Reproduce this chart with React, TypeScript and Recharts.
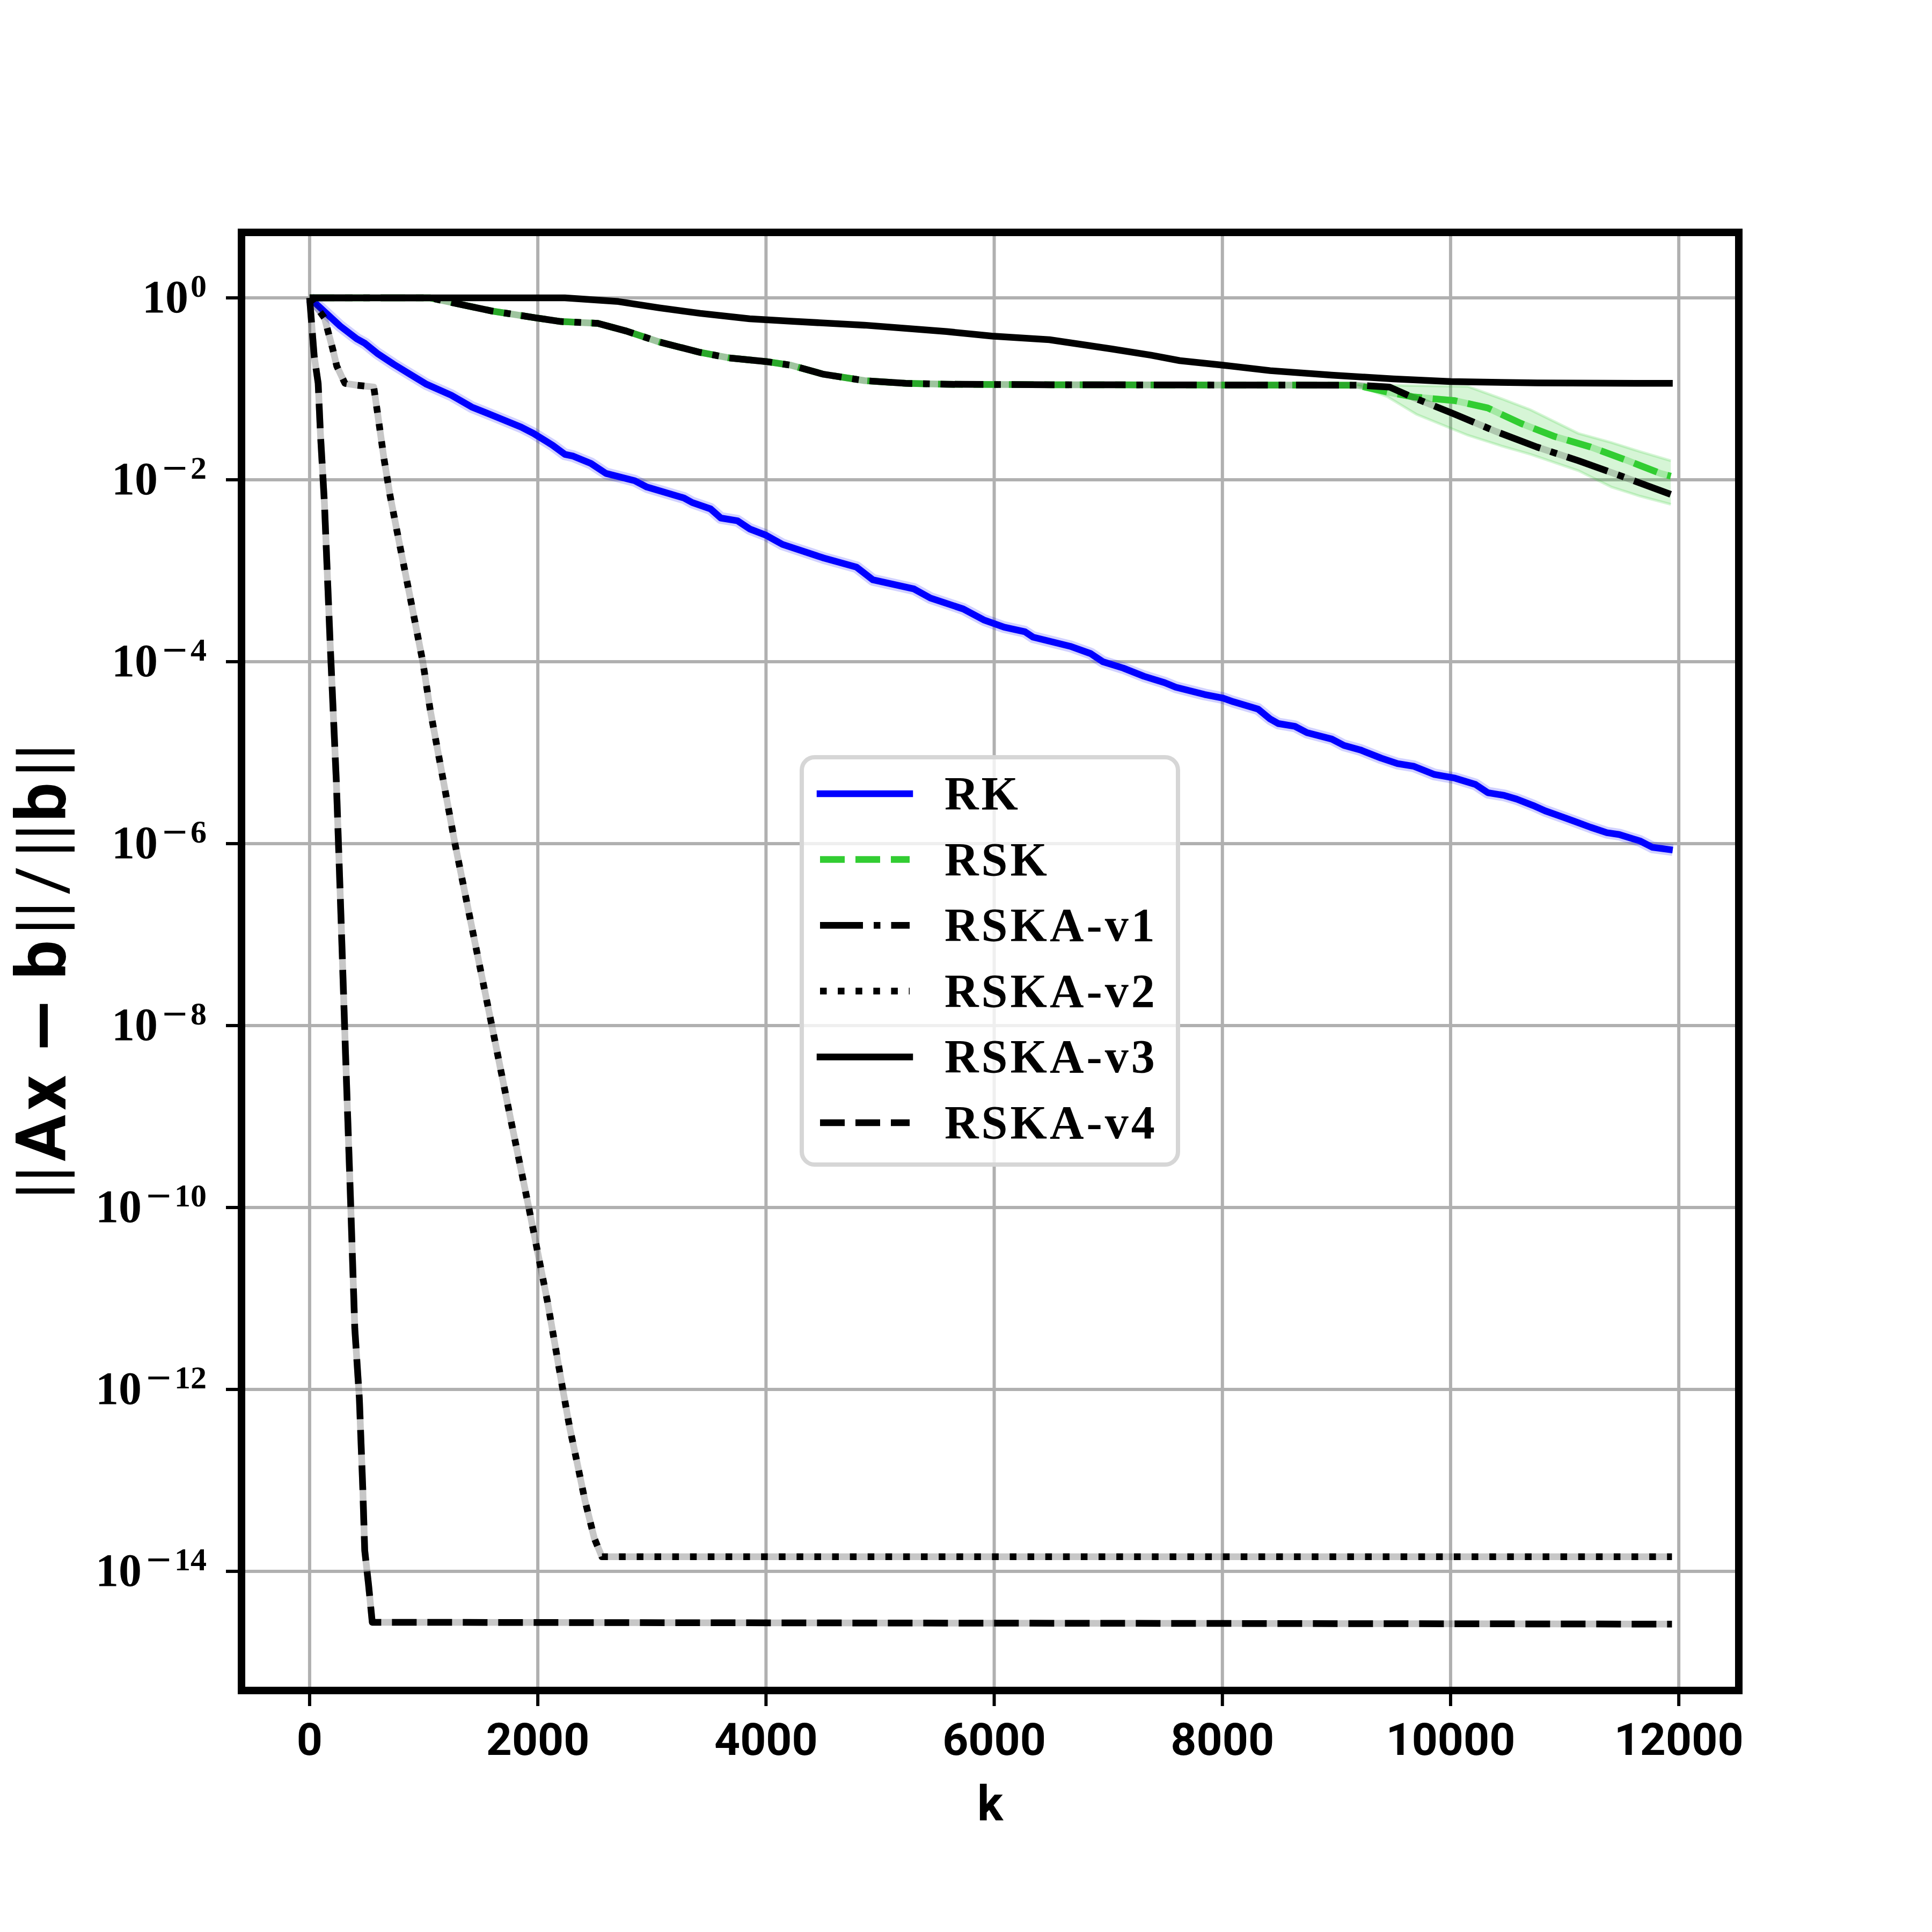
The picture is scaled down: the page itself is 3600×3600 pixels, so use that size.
import React from 'react';
import {
  ComposedChart,
  Line,
  Area,
  XAxis,
  YAxis,
  CartesianGrid,
  Legend,
  ReferenceArea,
} from 'recharts';

// ---- axis ticks ----
const kTicks = [0, 2000, 4000, 6000, 8000, 10000, 12000];
const yTickExponents = [0, -2, -4, -6, -8, -10, -12, -14];

// ---- series as [k, log10(||Ax-b||/||b||)] ----
const rkPoints: [number, number][] = [
  [0, 0], [125, -0.145], [268, -0.31], [413, -0.45], [485, -0.5], [593, -0.61],
  [737, -0.73], [880, -0.84], [1025, -0.95], [1241, -1.07], [1421, -1.2],
  [1600, -1.29], [1853, -1.42], [1962, -1.49], [2129, -1.62], [2237, -1.72],
  [2310, -1.74], [2465, -1.82], [2597, -1.93], [2849, -2.01], [2956, -2.08],
  [3281, -2.2], [3353, -2.25], [3514, -2.32], [3604, -2.42], [3749, -2.45],
  [3857, -2.54], [4001, -2.61], [4144, -2.71], [4505, -2.86], [4793, -2.96],
  [4937, -3.1], [5297, -3.2], [5441, -3.3], [5729, -3.42], [5908, -3.54],
  [6087, -3.62], [6268, -3.67], [6341, -3.73], [6665, -3.83], [6844, -3.91],
  [6952, -4.0], [7131, -4.07], [7312, -4.16], [7493, -4.23], [7591, -4.28],
  [7843, -4.36], [8006, -4.4], [8095, -4.44], [8312, -4.52], [8419, -4.63],
  [8490, -4.68], [8635, -4.71], [8742, -4.78], [8958, -4.85], [9066, -4.92],
  [9210, -4.97], [9391, -5.06], [9535, -5.12], [9679, -5.15], [9859, -5.24],
  [10038, -5.28], [10219, -5.35], [10327, -5.44], [10471, -5.47], [10579, -5.51],
  [10722, -5.58], [10830, -5.64], [11011, -5.72], [11227, -5.82], [11370, -5.88],
  [11477, -5.9], [11659, -5.97], [11768, -6.04], [11947, -6.07],
];

const rskPoints: [number, number][] = [
  [0, 0], [1058, 0], [1242, -0.05], [1600, -0.145], [1985, -0.22], [2200, -0.26],
  [2525, -0.28], [2776, -0.365], [3065, -0.485], [3424, -0.6], [3677, -0.66],
  [4001, -0.7], [4217, -0.74], [4505, -0.84], [4864, -0.91], [5225, -0.94],
  [5583, -0.95], [6500, -0.955], [8000, -0.958], [9175, -0.96], [9464, -1.04],
  [9680, -1.09], [10038, -1.13], [10325, -1.21], [10616, -1.38], [10903, -1.52],
  [11228, -1.64], [11553, -1.79], [11839, -1.93], [11930, -1.96],
];

const rskBandK = [9180, 9450, 9700, 10150, 10450, 10700, 11120, 11410, 11660, 11930];
const rskBandLow = [-0.96, -1.09, -1.28, -1.51, -1.63, -1.72, -1.9, -2.08, -2.18, -2.27];
const rskBandHigh = [-0.953, -0.96, -0.965, -0.973, -1.11, -1.23, -1.49, -1.59, -1.69, -1.79];

const v1Points: [number, number][] = [
  [0, 0], [1058, 0], [1242, -0.05], [1600, -0.145], [1985, -0.22], [2200, -0.26],
  [2525, -0.28], [2776, -0.365], [3065, -0.485], [3424, -0.6], [3677, -0.66],
  [4001, -0.7], [4217, -0.74], [4505, -0.84], [4864, -0.91], [5225, -0.94],
  [5583, -0.95], [6500, -0.955], [8000, -0.958], [9175, -0.96], [9464, -0.98],
  [9643, -1.08], [10038, -1.28], [10400, -1.47], [10757, -1.64], [11119, -1.79],
  [11477, -1.95], [11929, -2.16],
];

const v2Points: [number, number][] = [
  [0, 0], [130, -0.22], [202, -0.56], [238, -0.75], [310, -0.94], [413, -0.96],
  [562, -0.98], [597, -1.28], [652, -1.77], [706, -2.18], [795, -2.75], [884, -3.31],
  [992, -4.0], [1057, -4.53], [1274, -6.0], [1435, -7.0], [1597, -8.0], [1759, -9.01],
  [1921, -10.0], [2084, -11.03], [2219, -12.0], [2281, -12.43], [2347, -12.82],
  [2413, -13.22], [2496, -13.64], [2562, -13.84], [11940, -13.84],
];

const v3Points: [number, number][] = [
  [0, 0], [2237, 0], [2705, -0.04], [3065, -0.11], [3424, -0.17], [3857, -0.23],
  [4217, -0.257], [4864, -0.3], [5583, -0.37], [5981, -0.42], [6484, -0.46],
  [7023, -0.56], [7375, -0.63], [7627, -0.69], [8006, -0.74], [8419, -0.8],
  [8958, -0.85], [9497, -0.89], [10003, -0.92], [10760, -0.935], [11947, -0.94],
];

const v4Points: [number, number][] = [
  [0, 0], [40, -0.64], [75, -0.94], [95, -1.5], [130, -2.26], [180, -3.8],
  [234, -5.31], [275, -6.81], [315, -8.32], [356, -9.82], [396, -11.33],
  [436, -12.1], [466, -13.09], [483, -13.77], [516, -14.14], [549, -14.56],
  [11940, -14.58],
];

// ---- tables for the library ----
const toRows = (pts: [number, number][], key: string) =>
  pts.map(([k, e]) => ({ k, [key]: Math.pow(10, e) }));

const rkRows = toRows(rkPoints, 'rk');
const rskRows = toRows(rskPoints, 'rsk');
const v1Rows = toRows(v1Points, 'v1');
const v2Rows = toRows(v2Points, 'v2');
const v3Rows = toRows(v3Points, 'v3');
const v4Rows = toRows(v4Points, 'v4');
const bandRows = rskBandK.map((k, i) => ({
  k,
  band: [Math.pow(10, rskBandLow[i]), Math.pow(10, rskBandHigh[i])],
}));

const yTicks = yTickExponents.map((e) => Math.pow(10, e));
const X_DOMAIN: [number, number] = [-597, 12526];
const Y_DOMAIN: [number, number] = [Math.pow(10, -15.31), Math.pow(10, 0.72)];

const LW = 12.5;

const seriesMeta = [
  { name: 'RK', color: '#0000ff', dash: undefined as string | undefined },
  { name: 'RSK', color: '#32cd32', dash: '46 20' },
  { name: 'RSKA-v1', color: '#000000', dash: '80 20 12.5 20' },
  { name: 'RSKA-v2', color: '#000000', dash: '12.5 20.6' },
  { name: 'RSKA-v3', color: '#000000', dash: undefined },
  { name: 'RSKA-v4', color: '#000000', dash: '46 20' },
];

const XTick = (props: any) => {
  const { x, y, payload } = props;
  return (
    <text
      x={x}
      y={y + 91}
      textAnchor="middle"
      fontFamily="Roboto"
      fontWeight="bold"
      fontSize={84}
      fill="#000"
    >
      {payload.value}
    </text>
  );
};

const YTick = (props: any) => {
  const { x, y, payload } = props;
  const e = Math.round(Math.log10(payload.value));
  return (
    <text
      x={x - 36}
      y={y + 27}
      textAnchor="end"
      fontFamily="Liberation Serif"
      fontWeight="bold"
      fontSize={86}
      fill="#000"
    >
      10
      {e === 0 ? (
        <tspan fontSize={60} dy={-29} dx={4}>
          0
        </tspan>
      ) : (
        <>
          <tspan fontSize={62} dy={-29} dx={6} fontFamily="DejaVu Sans" fontWeight="normal">
            {'\u2212'}
          </tspan>
          <tspan fontSize={60} dx={3}>
            {Math.abs(e)}
          </tspan>
        </>
      )}
    </text>
  );
};

const XLabel = () => (
  <text
    x={1845}
    y={3392}
    textAnchor="middle"
    fontFamily="Roboto"
    fontWeight="bold"
    fontSize={90}
    fill="#000"
  >
    k
  </text>
);

const YLabel = () => (
  <text
    x={122}
    y={1810}
    transform="rotate(-90 122 1810)"
    textAnchor="middle"
    fontFamily="Roboto"
    fontSize={129}
    fill="#000"
  >
    <tspan fontWeight="normal">||</tspan>
    <tspan fontWeight="bold" dx={8}>A</tspan>
    <tspan fontWeight="bold" dx={8}>x</tspan>
    <tspan fontWeight="bold" dx={38} fontFamily="DejaVu Sans">{'\u2212'}</tspan>
    <tspan fontWeight="bold" dx={33}>b</tspan>
    <tspan fontWeight="normal" dx={10}>||</tspan>
    <tspan fontWeight="normal" dx={12}>/</tspan>
    <tspan fontWeight="normal" dx={16}>||</tspan>
    <tspan fontWeight="bold" dx={4}>b</tspan>
    <tspan fontWeight="normal" dx={10}>||</tspan>
  </text>
);

const LegendBox = () => (
  <svg width={712} height={772} style={{ display: 'block' }}>
    <rect
      x={4}
      y={4}
      width={701}
      height={759}
      rx={24}
      ry={24}
      fill="#ffffff"
      fillOpacity={0.8}
      stroke="#d6d6d6"
      strokeWidth={8}
    />
    {seriesMeta.map((s, i) => {
      const cy = 72 + i * 122.6;
      return (
        <g key={s.name}>
          <line
            x1={38}
            x2={205}
            y1={cy}
            y2={cy}
            stroke={s.color}
            strokeWidth={LW}
            strokeDasharray={s.dash}
            strokeLinecap={s.dash ? 'butt' : 'square'}
          />
          <text
            x={270}
            y={cy + 29}
            fontFamily="Liberation Serif"
            fontWeight="bold"
            fontSize={88}
            letterSpacing={5}
            fill="#000"
          >
            {s.name}
          </text>
        </g>
      );
    })}
  </svg>
);

const common = {
  type: 'linear' as const,
  dot: false,
  activeDot: false,
  isAnimationActive: false,
  strokeLinejoin: 'round' as const,
};

export default function App() {
  return (
    <div
      style={{
        position: 'absolute',
        left: 0,
        top: 0,
        width: 3600,
        height: 3600,
        background: '#ffffff',
      }}
    >
      <ComposedChart
        width={3600}
        height={3600}
        margin={{ top: 433, right: 360, bottom: 250, left: 150 }}
      >
        <CartesianGrid stroke="#b0b0b0" strokeWidth={6} />
        <XAxis
          dataKey="k"
          type="number"
          domain={X_DOMAIN}
          ticks={kTicks}
          interval={0}
          allowDataOverflow
          axisLine={false}
          tickLine={{ stroke: '#000', strokeWidth: 6 }}
          tickSize={29}
          tickMargin={0}
          height={200}
          tick={XTick}
          label={<XLabel />}
        />
        <YAxis
          type="number"
          scale="log"
          domain={Y_DOMAIN}
          ticks={yTicks}
          interval={0}
          allowDataOverflow
          axisLine={false}
          tickLine={{ stroke: '#000', strokeWidth: 6 }}
          tickSize={29}
          tickMargin={0}
          width={300}
          tick={YTick}
          label={<YLabel />}
        />

        <Line {...common} data={rkRows} dataKey="rk" stroke="#0000ff" strokeOpacity={0.18} strokeWidth={22} />
        <Line {...common} data={rkRows} dataKey="rk" stroke="#0000ff" strokeWidth={LW} />

        <Area
          data={bandRows}
          dataKey="band"
          type="linear"
          isAnimationActive={false}
          fill="#32cd32"
          fillOpacity={0.2}
          stroke="#32cd32"
          strokeOpacity={0.2}
          strokeWidth={5}
          dot={false}
          activeDot={false}
        />
        <Line {...common} data={rskRows} dataKey="rsk" stroke="#32cd32" strokeOpacity={0.3} strokeWidth={LW} />
        <Line {...common} data={rskRows} dataKey="rsk" stroke="#32cd32" strokeWidth={LW} strokeDasharray="46 20" />

        <Line {...common} data={v1Rows} dataKey="v1" stroke="#000" strokeOpacity={0.18} strokeWidth={LW} />
        <Line {...common} data={v1Rows} dataKey="v1" stroke="#000" strokeWidth={LW} strokeDasharray="80 20 12.5 20" />

        <Line {...common} data={v2Rows} dataKey="v2" stroke="#000" strokeOpacity={0.22} strokeWidth={LW} />
        <Line {...common} data={v2Rows} dataKey="v2" stroke="#000" strokeWidth={LW} strokeDasharray="12.5 20.6" />

        <Line {...common} data={v3Rows} dataKey="v3" stroke="#000" strokeWidth={LW} />

        <Line {...common} data={v4Rows} dataKey="v4" stroke="#000" strokeOpacity={0.22} strokeWidth={LW} />
        <Line {...common} data={v4Rows} dataKey="v4" stroke="#000" strokeWidth={LW} strokeDasharray="46 20" />

        <ReferenceArea
          x1={X_DOMAIN[0]}
          x2={X_DOMAIN[1]}
          y1={Y_DOMAIN[0]}
          y2={Y_DOMAIN[1]}
          fill="none"
          stroke="#000"
          strokeWidth={14}
          ifOverflow="visible"
        />

        <Legend
          layout="vertical"
          align="center"
          verticalAlign="middle"
          content={() => <LegendBox />}
          wrapperStyle={{ left: 1490, top: 1407, width: 712, height: 772 }}
        />
      </ComposedChart>
    </div>
  );
}
